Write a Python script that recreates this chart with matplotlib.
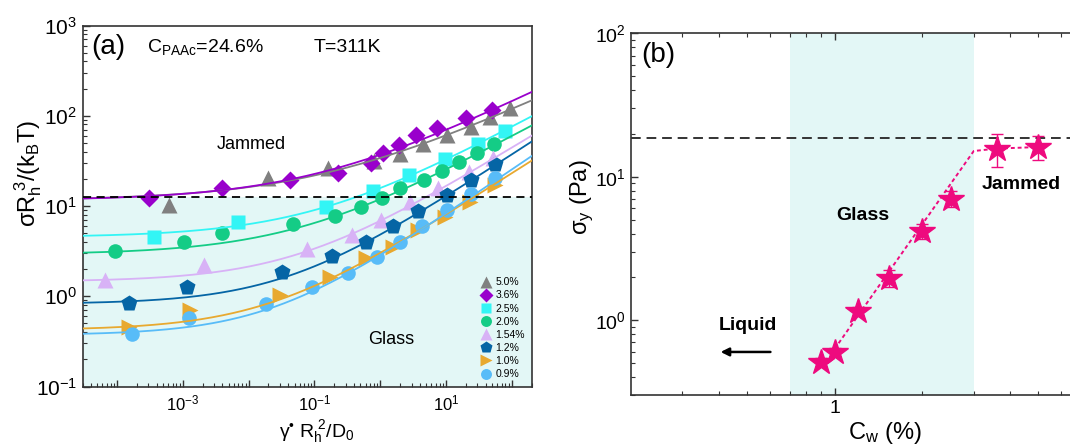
import numpy as np
import matplotlib
matplotlib.use('Agg')
import matplotlib.pyplot as plt
from matplotlib.ticker import LogLocator, FixedLocator, FuncFormatter, NullFormatter

plt.rcParams['font.family'] = ['Liberation Sans', 'DejaVu Sans']
plt.rcParams['mathtext.fontset'] = 'custom'
plt.rcParams['mathtext.rm'] = 'Liberation Sans'
plt.rcParams['mathtext.it'] = 'Liberation Sans'
plt.rcParams['mathtext.sf'] = 'Liberation Sans'
plt.rcParams['mathtext.bf'] = 'Liberation Sans:bold'
plt.rcParams['mathtext.default'] = 'regular'

# ---------------- panel (a): flow curves ----------------
conc_labels = ['5.0%', '3.6%', '2.5%', '2.0%', '1.54%', '1.2%', '1.0%', '0.9%']
conc_colors = ['#808080', '#9900CC', '#33F5F5', '#14CC86', '#D8B2F6', '#0565A5', '#E8A930', '#58BCF8']
conc_markers = ['^', 'D', 's', 'o', '^', 'p', '>', 'o']
conc_msize = [11, 9, 9.5, 10.5, 12, 12, 12, 10.5]

x_50 = [6.2e-4, 0.020, 0.16, 0.81, 2.0, 4.4, 10.3, 23.8, 46, 95]
y_50 = [10.3, 20.3, 26.2, 31.5, 37.7, 48.6, 61.2, 75.7, 96, 121]
x_36 = [3.1e-4, 4.0e-3, 0.0425, 0.229, 0.72, 1.1, 1.9, 3.46, 7.4, 19.9, 49.2]
y_36 = [12.2, 15.7, 19.4, 23.4, 29.7, 39, 47.5, 61.2, 72.6, 93.7, 116]
x_25 = [3.7e-4, 6.9e-3, 0.151, 0.766, 2.72, 9.6, 30.3, 79.8]
y_25 = [4.57, 6.7, 9.8, 14.7, 22, 32.9, 48.6, 68.2]
x_20 = [9.3e-5, 1.03e-3, 4.0e-3, 0.048, 0.204, 0.52, 1.08, 2.0, 4.56, 8.57, 15.6, 29.3, 53.5]
y_20 = [3.2, 4.0, 5.06, 6.27, 7.75, 9.8, 12.2, 15.7, 19.4, 24.6, 31, 38.4, 48.6]
x_154 = [6.5e-5, 2.1e-3, 0.078, 0.37, 1.03, 2.88, 7.57, 22.5, 52]
y_154 = [1.51, 2.22, 3.31, 4.77, 7.0, 11.2, 16, 24, 34]
x_12 = [1.5e-4, 1.18e-3, 0.032, 0.185, 0.62, 1.58, 3.76, 10.3, 23.8, 55.4]
y_12 = [0.85, 1.26, 1.87, 2.79, 4.02, 6.05, 8.87, 13.2, 19.4, 29.2]
x_10 = [1.5e-4, 1.27e-3, 0.030, 0.175, 0.62, 1.54, 3.76, 9.6, 23, 55.4]
y_10 = [0.46, 0.705, 1.03, 1.65, 2.63, 3.48, 5.42, 7.6, 11.2, 17.1]
x_09 = [1.71e-4, 1.24e-3, 0.0187, 0.093, 0.33, 0.89, 2.01, 4.26, 10.3, 23.8, 55.4]
y_09 = [0.38, 0.57, 0.82, 1.26, 1.82, 2.74, 4.02, 6.0, 9.0, 13.5, 20.3]

series_x = [x_50, x_36, x_25, x_20, x_154, x_12, x_10, x_09]
series_y = [y_50, y_36, y_25, y_20, y_154, y_12, y_10, y_09]

# Herschel-Bulkley fit parameters: sigma = sigma_y + K * rate**n
hb_yield = [11.5, 11.5, 4.5, 2.9, 1.45, 0.82, 0.42, 0.37]
hb_K = [22.5, 25.5, 11.3, 9.0, 5.4, 4.0, 2.6, 2.5]
hb_n = [0.34, 0.36, 0.40, 0.40, 0.45, 0.48, 0.47, 0.50]

jam_level_a = 12.5

# ---------------- panel (b): yield stress ----------------
cw = [0.9, 1.0, 1.2, 1.54, 2.0, 2.5, 3.6, 5.0]
sigma_yield = [0.51, 0.60, 1.16, 1.97, 4.2, 7.0, 15.7, 16.1]
sigma_err = [0.03, 0.04, 0.08, 0.28, 0.5, 0.9, 4.1, 3.1]
guide_cw = [1.0, 3.0, 3.6, 5.0]
guide_sigma = [0.63, 15.1, 15.7, 16.1]
jam_level_b = 18.5
glass_range = (0.7, 3.0)

shade = '#E3F7F6'
pink = '#EE0A7E'
spine_col = '#333333'

fig = plt.figure(figsize=(10.7, 4.46), dpi=100)
W, H = 1070, 446


def px_axes(left, top, right, bottom):
    return fig.add_axes([left / W, 1 - bottom / H, (right - left) / W, (bottom - top) / H])


ax = px_axes(82.5, 25.5, 532.3, 386.5)
ax.set_xscale('log')
ax.set_yscale('log')
ax.set_xlim(3e-5, 205)
ax.set_ylim(0.1, 1000)
ax.axhspan(0.1, jam_level_a, color=shade, zorder=0, lw=0)
ax.axhline(jam_level_a, color='black', ls=(0, (4.5, 3)), lw=1.3, zorder=4)

rate = np.logspace(np.log10(3e-5), np.log10(205), 300)
handles = []
for xs, ys, lab, col, mk, ms, sy, k, n in zip(series_x, series_y, conc_labels, conc_colors,
                                             conc_markers, conc_msize, hb_yield, hb_K, hb_n):
    h, = ax.plot(xs, ys, ls='none', marker=mk, ms=ms, color=col, mec='none', zorder=2, label=lab)
    ax.plot(rate, sy + k * rate ** n, color=col, lw=1.3, zorder=3)
    handles.append(h)

leg = ax.legend(handles=handles, loc='lower right', bbox_to_anchor=(1.0, 0.0), frameon=False,
                fontsize=7.5, markerscale=0.75, handlelength=1.0, handletextpad=0.4,
                labelspacing=0.3, borderaxespad=0.3)

ax.xaxis.set_major_locator(FixedLocator([10.0 ** e for e in range(-4, 3)]))
ax.xaxis.set_major_formatter(FuncFormatter(
    lambda v, p: r'$10^{%d}$' % round(np.log10(v)) if round(np.log10(v)) in (-3, -1, 1) else ''))
ax.xaxis.set_minor_locator(LogLocator(base=10, subs=np.arange(2, 10), numticks=50))
ax.xaxis.set_minor_formatter(NullFormatter())
ax.yaxis.set_major_locator(LogLocator(base=10, numticks=10))
ax.yaxis.set_minor_locator(LogLocator(base=10, subs=np.arange(2, 10), numticks=50))
ax.yaxis.set_minor_formatter(NullFormatter())
ax.tick_params(axis='both', which='both', direction='in', top=False, right=False, color=spine_col)
ax.tick_params(axis='both', which='major', length=5, width=1)
ax.tick_params(axis='both', which='minor', length=3, width=0.8)
ax.tick_params(axis='x', labelsize=12, pad=5)
ax.tick_params(axis='y', labelsize=15, pad=4)
for s in ax.spines.values():
    s.set_linewidth(1.2)
    s.set_color(spine_col)

ax.set_ylabel(r'$\sigma R_h^{\ 3}/(k_BT)$', fontsize=17)
ax.yaxis.set_label_coords(-0.12, 0.59)
ax.yaxis.label.set_va('center')
ax.set_xlabel(r'$\gamma^{\mathregular{•}}\ R_h^{\ 2}/D_0$', fontsize=14)
ax.xaxis.set_label_coords(0.52, -0.125)
ax.xaxis.label.set_va('center')

ax.text(0.057, 0.94, '(a)', transform=ax.transAxes, fontsize=20, ha='center', va='center')
ax.text(0.1425, 0.94, r'$C_{PAAc}$=24.6%', transform=ax.transAxes, fontsize=14, ha='left', va='center')
ax.text(0.513, 0.94, 'T=311K', transform=ax.transAxes, fontsize=14, ha='left', va='center')
ax.text(0.376, 0.669, 'Jammed', transform=ax.transAxes, fontsize=13, ha='center', va='center')
ax.text(0.687, 0.131, 'Glass', transform=ax.transAxes, fontsize=13, ha='center', va='center')

# ---------------- panel (b) ----------------
bx = px_axes(631, 33.3, 1081, 395)
bx.set_xscale('log')
bx.set_yscale('log')
bx.set_xlim(0.2, 7)
bx.set_ylim(0.3, 100)
bx.axvspan(*glass_range, color=shade, zorder=0, lw=0)
bx.axhline(jam_level_b, color='#333333', ls=(0, (5, 3)), lw=1.4, zorder=1)
bx.plot(guide_cw, guide_sigma, color=pink, ls=(0, (2, 1.5)), lw=1.4, zorder=2)
bx.errorbar(cw, sigma_yield, yerr=sigma_err, fmt='*', ms=19, color=pink, mec=pink,
            ecolor=pink, elinewidth=1, capsize=4, capthick=1, zorder=3)

bx.xaxis.set_major_locator(FixedLocator([1.0]))
bx.xaxis.set_major_formatter(FuncFormatter(lambda v, p: '1'))
bx.xaxis.set_minor_locator(FixedLocator([0.3, 0.4, 0.5, 0.6, 0.7, 0.8, 0.9, 2, 3, 4, 5, 6]))
bx.xaxis.set_minor_formatter(NullFormatter())
bx.yaxis.set_major_locator(LogLocator(base=10, numticks=10))
bx.yaxis.set_minor_locator(LogLocator(base=10, subs=np.arange(2, 10), numticks=50))
bx.yaxis.set_minor_formatter(NullFormatter())
bx.tick_params(axis='both', which='both', direction='in', top=True, right=False, color=spine_col)
bx.tick_params(axis='both', which='major', length=5, width=1)
bx.tick_params(axis='both', which='minor', length=3, width=0.8)
bx.tick_params(axis='both', labelsize=14)
for s in bx.spines.values():
    s.set_linewidth(1.2)
    s.set_color(spine_col)

bx.set_ylabel(r'$\sigma_y$ (Pa)', fontsize=17)
bx.yaxis.set_label_coords(-0.109, 0.547)
bx.yaxis.label.set_va('center')
bx.set_xlabel(r'$C_w$ (%)', fontsize=17)
bx.xaxis.set_label_coords(0.564, -0.104)
bx.xaxis.label.set_va('center')

bx.text(0.061, 0.94, '(b)', transform=bx.transAxes, fontsize=20, ha='center', va='center')
bx.text(0.516, 0.495, 'Glass', transform=bx.transAxes, fontsize=14, fontweight='bold', ha='center', va='center')
bx.text(0.868, 0.581, 'Jammed', transform=bx.transAxes, fontsize=14, fontweight='bold', ha='center', va='center')
bx.text(0.259, 0.191, 'Liquid', transform=bx.transAxes, fontsize=14, fontweight='bold', ha='center', va='center')
bx.annotate('', xy=(0.193, 0.119), xytext=(0.316, 0.119), xycoords='axes fraction',
            arrowprops=dict(arrowstyle='-|>', color='black', lw=1.8, mutation_scale=12))

fig.savefig('out.png', dpi=100)
